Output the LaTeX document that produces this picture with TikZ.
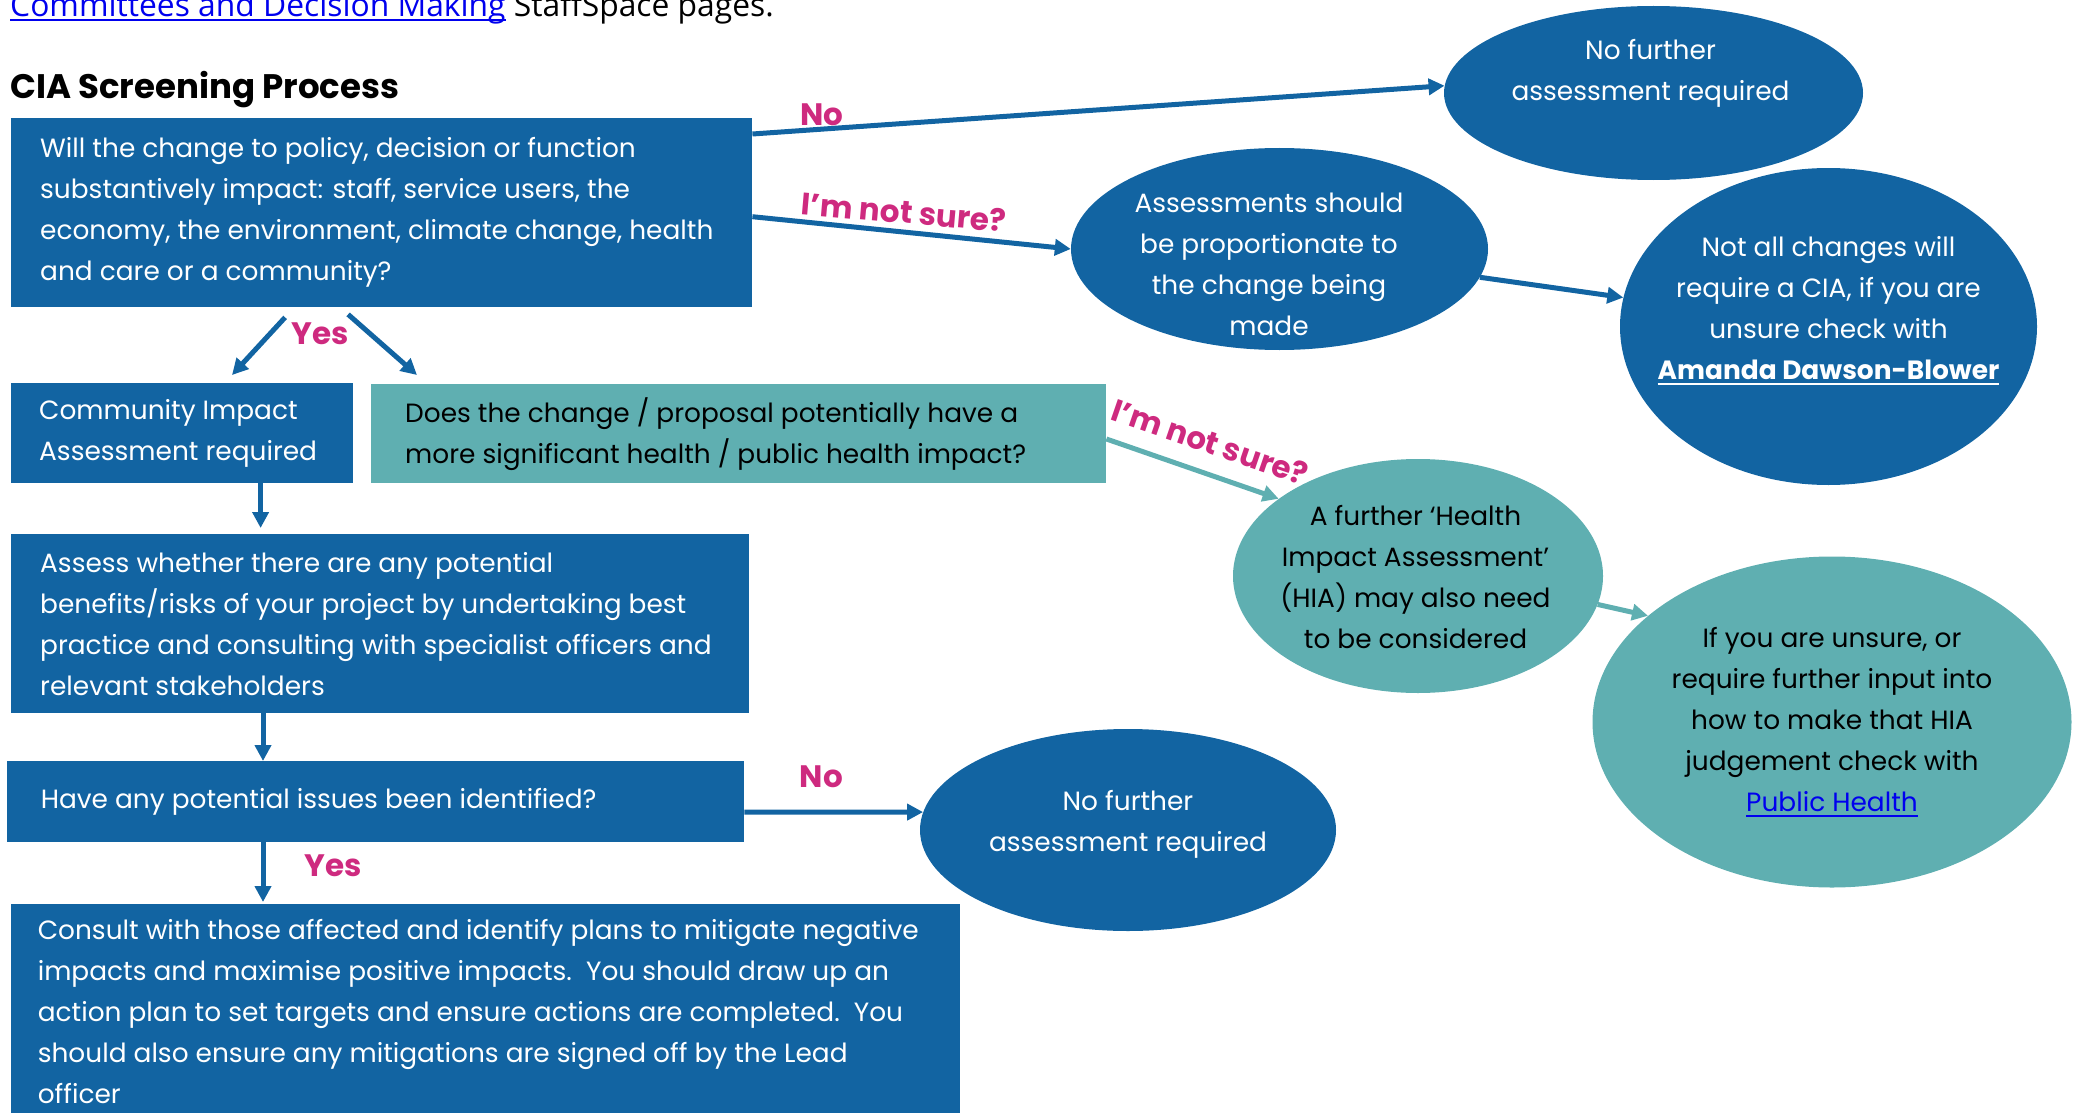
\documentclass[tikz,border=0pt]{standalone}
\usepackage{fontspec}
\setmainfont{Poppins}
\newfontfamily\topfont{Open Sans}
\usetikzlibrary{arrows.meta,calc,shapes.geometric}
\definecolor{cblue}{RGB}{18,100,162}
\definecolor{cteal}{RGB}{95,175,177}
\definecolor{cmag}{RGB}{206,42,127}
\definecolor{clink}{RGB}{0,0,238}
\newcommand\bodyfont{\fontsize{26.4}{41}\selectfont}
\newcommand\boxtext[4][0pt]{\hspace*{#2}\raisebox{#1}{\begin{minipage}[c]{#3}\raggedright #4\end{minipage}}}
\newcommand\ovaltext[3][0pt]{\makebox[0pt]{\raisebox{#2}[0pt][0pt]{\begin{tabular}{@{}c@{}}#3\end{tabular}}\hspace*{#1}}}
\newcommand\thickul[2][-5pt]{\setbox0=\hbox{#2}\rlap{\rule[#1]{\wd0}{2pt}}\box0}
\begin{document}
\begin{tikzpicture}[x=1pt,y=-1pt,
  bluebox/.style={rectangle, fill=cblue, text=white, inner sep=0pt, anchor=north west, font=\bodyfont},
  tealbox/.style={rectangle, fill=cteal, text=black, inner sep=0pt, anchor=north west, font=\bodyfont},
  blueoval/.style={ellipse, fill=cblue, text=white, inner sep=0pt, font=\bodyfont},
  tealoval/.style={ellipse, fill=cteal, text=black, inner sep=0pt, font=\bodyfont},
  flow/.style={draw=cblue, line width=5pt, -{Triangle[length=16pt,width=16pt]}},
  tealflow/.style={flow, draw=cteal},
  decision/.style={text=cmag, font=\fontsize{31}{36}\selectfont\bfseries, inner sep=0pt},
]
\useasboundingbox (0,0) rectangle (2080,1113);

% header
\node[anchor=base west, inner sep=0pt, font=\topfont\fontsize{31.8}{36}\selectfont] (toplink) at (10,17)
  {\textcolor{clink}{\thickul[-4pt]{Committees and Decision Making}} StaffSpace pages.};
\node[anchor=base west, inner sep=0pt, font=\fontsize{34}{40}\selectfont\bfseries] (title) at (10,99)
  {CIA Screening Process};

% rectangles
\node[bluebox, minimum width=741.4pt, minimum height=189pt] (q1) at (10.6,118)
  {\boxtext[3pt]{29.4pt}{712pt}{Will the change to policy, decision or function\\substantively impact: staff, service users, the\\economy, the environment, climate change, health\\and care or a community?}};
\node[bluebox, minimum width=342pt, minimum height=100pt] (cia) at (10.6,383)
  {\boxtext{28.4pt}{313.6pt}{Community Impact\\Assessment required}};
\node[tealbox, minimum width=735pt, minimum height=99pt] (hq) at (371,384)
  {\boxtext[2.5pt]{34pt}{701pt}{Does the change / proposal potentially have a\\more significant health / public health impact?}};
\node[bluebox, minimum width=738.4pt, minimum height=179pt] (assess) at (10.6,534)
  {\boxtext[-1pt]{29.4pt}{709pt}{Assess whether there are any potential\\benefits/risks of your project by undertaking best\\practice and consulting with specialist officers and\\relevant stakeholders}};
\node[bluebox, minimum width=737.4pt, minimum height=81pt] (have) at (6.6,761)
  {\boxtext[1pt]{34pt}{703.4pt}{Have any potential issues been identified?}};
\node[bluebox, minimum width=949.4pt, minimum height=214pt] (consult) at (10.6,904)
  {\boxtext{27pt}{922.4pt}{Consult with those affected and identify plans to mitigate negative\\impacts and maximise positive impacts.\ \ You should draw up an\\action plan to set targets and ensure actions are completed.\ \ You\\should also ensure any mitigations are signed off by the Lead\\officer}};

% ellipses
\node[blueoval, minimum width=419pt, minimum height=174pt] (nf1) at (1653.5,93)
  {\ovaltext[6pt]{14.5pt}{No further\\assessment required}};
\node[blueoval, minimum width=417pt, minimum height=202pt] (prop) at (1279.5,249)
  {\ovaltext[21pt]{-23pt}{Assessments should\\be proportionate to\\the change being\\made}};
\node[blueoval, minimum width=417pt, minimum height=317pt] (notall) at (1828.5,326.5)
  {\ovaltext{10pt}{Not all changes will\\require a CIA, if you are\\unsure check with\\\textbf{\thickul{Amanda Dawson-Blower}}}};
\node[tealoval, minimum width=370pt, minimum height=234pt] (hia) at (1418,576)
  {\ovaltext[5pt]{-9pt}{A further ‘Health\\Impact Assessment’\\(HIA) may also need\\to be considered}};
\node[tealoval, minimum width=479pt, minimum height=331pt] (unsure) at (1832,722)
  {\ovaltext{-6pt}{If you are unsure, or\\require further input into\\how to make that HIA\\judgement check with\\\textcolor{clink}{\thickul{Public Health}}}};
\node[blueoval, minimum width=416pt, minimum height=202pt] (nf2) at (1128,830)
  {\ovaltext{1pt}{No further\\assessment required}};

% connectors
\draw[flow] ($(q1.north east)+(0,16)$) -- (nf1.178);
\draw[flow] ($(q1.east)+(0,4)$) -- (prop.west);
\draw[flow] (prop) -- (notall);
\draw[flow] ($(q1.south west)+(274.5,10)$) -- ($(cia.north west)+(221.4,-8)$);
\draw[flow] ($(q1.south west)+(337.5,7)$) -- ($(hq.north west)+(46,-9)$);
\draw[flow] ($(cia.south west)+(250,0)$) -- ($(assess.north west)+(250,-6)$);
\draw[flow] ($(assess.south west)+(252.4,0)$) -- ($(have.north west)+(256.4,0)$);
\draw[flow] ($(have.north east)+(0,51)$) -- (nf2.175);
\draw[flow] ($(have.south west)+(256.4,0)$) -- ($(consult.north west)+(252.4,-2)$);
\draw[tealflow] ($(hq.north east)+(0,55)$) -- (hia.151);
\draw[tealflow] (hia.-9) -- (unsure.150);

% decision labels
\node[decision] (lno1) at (822,115) {No};
\node[decision, rotate=-5] (lns1) at (904,212) {I’m not sure?};
\node[decision] (lyes1) at (320,334) {Yes};
\node[decision, rotate=-19] (lns2) at (1210,442) {I’m not sure?};
\node[decision] (lno2) at (821.5,776.5) {No};
\node[decision] (lyes2) at (333,866) {Yes};
\end{tikzpicture}
\end{document}
